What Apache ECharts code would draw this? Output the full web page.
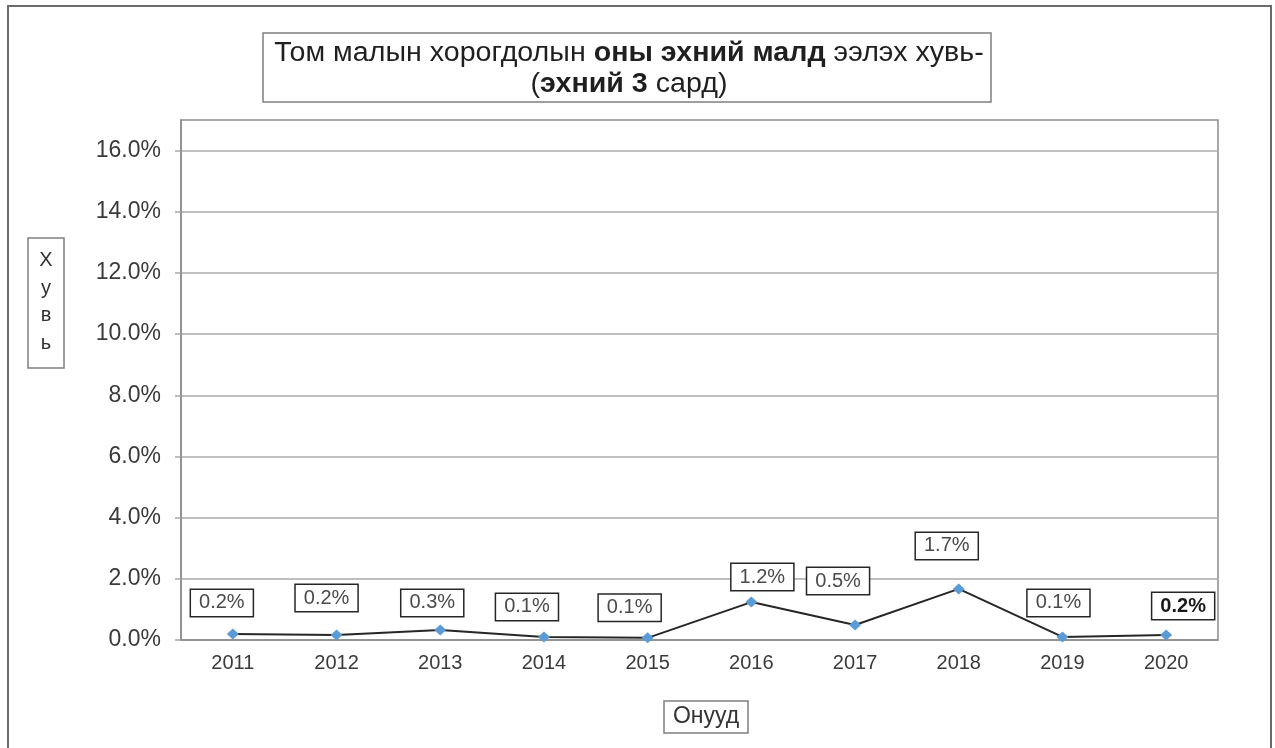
<!DOCTYPE html>
<html>
<head>
<meta charset="utf-8">
<script src="https://cdn.jsdelivr.net/npm/echarts@6/dist/echarts.min.js"></script>
<style>
  html, body { margin: 0; padding: 0; background: #fff; }
  #chart { width: 1275px; height: 748px; }
</style>
</head>
<body>
<div id="chart"></div>
<script>
// Years on the horizontal axis
const years = ['2011', '2012', '2013', '2014', '2015', '2016', '2017', '2018', '2019', '2020'];
// Share of early-year livestock losses (percent)
const shares = [0.20, 0.16, 0.33, 0.10, 0.07, 1.24, 0.49, 1.67, 0.10, 0.16];
// Value-axis tick values (percent)
const yTicks = [0, 2, 4, 6, 8, 10, 12, 14, 16];

// Label box placement relative to each marker [dx, dy]
const labelOffsets = [[-11, -31], [-10, -37], [-8, -27], [-17, -30], [-18, -30],
                      [11, -25], [-17, -44], [-12, -43], [-4, -34], [17, -29]];

const FONT = '"Liberation Sans", Arial, sans-serif';

const seriesData = shares.map((v, i) => {
  const item = { value: v, label: { offset: labelOffsets[i] } };
  if (i === shares.length - 1) {
    item.label.fontWeight = 'bold';
    item.label.color = '#1a1a1a';
  }
  return item;
});

const chart = echarts.init(document.getElementById('chart'), null, { renderer: 'canvas' });

chart.setOption({
  animation: false,
  backgroundColor: '#ffffff',
  textStyle: { fontFamily: FONT },
  grid: {
    left: 181, right: 57, top: 120, bottom: 108,
    show: true, borderColor: '#8c8c8c', borderWidth: 1.5, backgroundColor: 'transparent'
  },
  xAxis: {
    type: 'category',
    data: years,
    boundaryGap: true,
    axisLine: { show: true, lineStyle: { color: '#8c8c8c', width: 1.5 } },
    axisTick: { show: false },
    axisLabel: { color: '#3a3a3a', fontSize: 20, fontFamily: FONT, margin: 13 }
  },
  yAxis: {
    type: 'value',
    min: 0,
    max: 17,
    interval: 2,
    axisLine: { show: true, lineStyle: { color: '#8c8c8c', width: 1.5 } },
    axisTick: { show: true, length: 6, customValues: yTicks, lineStyle: { color: '#a6a6a6', width: 1.5 } },
    axisLabel: {
      customValues: yTicks,
      color: '#3a3a3a', fontSize: 23, fontFamily: FONT, margin: 20,
      formatter: v => v.toFixed(1) + '%'
    },
    splitLine: { show: true, lineStyle: { color: '#a9a9a9', width: 1.5 } }
  },
  series: [{
    type: 'line',
    data: seriesData,
    symbol: 'diamond',
    symbolSize: [12, 11],
    itemStyle: { color: '#5b9bd5' },
    lineStyle: { color: '#262626', width: 2 },
    z: 3,
    label: {
      show: true,
      position: 'inside',
      formatter: p => p.value.toFixed(1) + '%',
      color: '#4a4a4a',
      fontSize: 20,
      fontFamily: FONT,
      lineHeight: 21,
      backgroundColor: '#ffffff',
      borderColor: '#262626',
      borderWidth: 1.5,
      padding: [3, 8, 2, 8]
    }
  }],
  graphic: [
    // outer frame
    {
      type: 'rect', silent: true, z: 0,
      shape: { x: 8, y: 6, width: 1263, height: 760 },
      style: { fill: 'none', stroke: '#6b6b6b', lineWidth: 2 }
    },
    // title box
    {
      type: 'rect', silent: true, z: 10,
      shape: { x: 263, y: 33, width: 728, height: 69 },
      style: { fill: '#ffffff', stroke: '#7f7f7f', lineWidth: 1.5 }
    },
    {
      type: 'text', silent: true, z: 11,
      x: 629, y: 69, scaleX: 1.06,
      style: {
        x: 0, y: 0,
        align: 'center', verticalAlign: 'middle',
        text: '{n|Том малын хорогдолын }{b|оны эхний малд}{n| ээлэх хувь-}\n{n|(}{b|эхний 3}{n| сард)}',
        rich: {
          n: { fontSize: 27, fontFamily: FONT, fill: '#1f1f1f', lineHeight: 31 },
          b: { fontSize: 27, fontFamily: FONT, fontWeight: 'bold', fill: '#1f1f1f', lineHeight: 31 }
        }
      }
    },
    // vertical axis name box
    {
      type: 'rect', silent: true, z: 10,
      shape: { x: 28, y: 238, width: 36, height: 130 },
      style: { fill: '#ffffff', stroke: '#7f7f7f', lineWidth: 1.5 }
    },
    {
      type: 'text', silent: true, z: 11,
      style: {
        x: 46, y: 302,
        align: 'center', verticalAlign: 'middle',
        text: 'Х\nу\nв\nь',
        font: '20px ' + FONT,
        lineHeight: 27.5,
        fill: '#333333'
      }
    },
    // horizontal axis name box
    {
      type: 'rect', silent: true, z: 10,
      shape: { x: 664, y: 701, width: 84, height: 32 },
      style: { fill: '#ffffff', stroke: '#7f7f7f', lineWidth: 1.5 }
    },
    {
      type: 'text', silent: true, z: 11,
      style: {
        x: 706, y: 717,
        align: 'center', verticalAlign: 'middle',
        text: 'Онууд',
        font: '23px ' + FONT,
        fill: '#333333'
      }
    }
  ]
});
</script>
</body>
</html>
